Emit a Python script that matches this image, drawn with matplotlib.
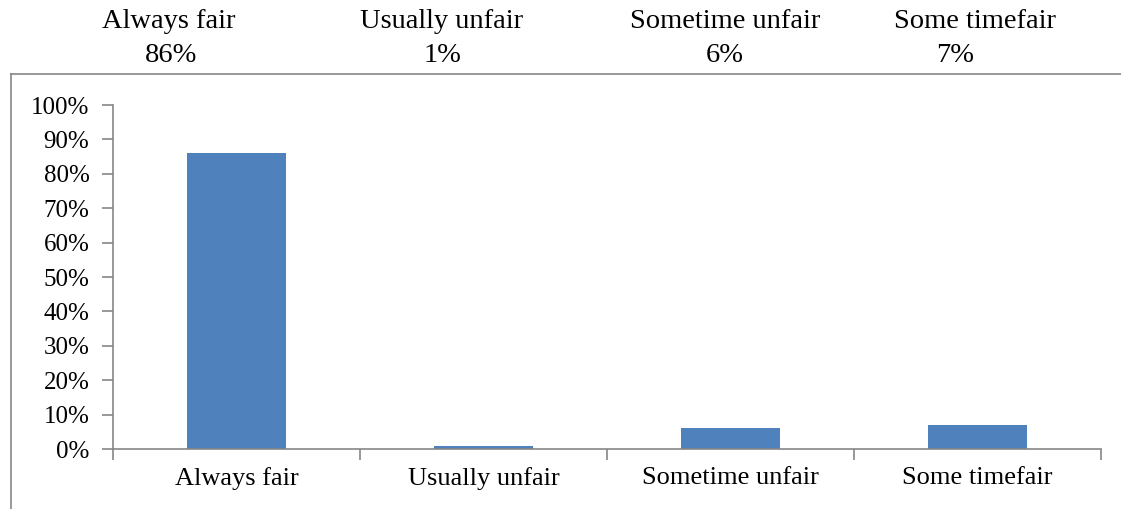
import numpy as np
import matplotlib.pyplot as plt
from matplotlib.lines import Line2D
from matplotlib.ticker import PercentFormatter

categories = ['Always fair', 'Usually unfair', 'Sometime unfair', 'Some timefair']
values = [86, 1, 6, 7]
pct_labels = ['86%', '1%', '6%', '7%']

plt.rcParams['font.family'] = ['Liberation Serif', 'DejaVu Serif']
edge = '#868686'

fig = plt.figure(figsize=(11.21, 5.09), dpi=100)
ax = fig.add_axes([113/1121, 1 - 449/509, (1101 - 113)/1121, (449 - 105)/509])

x = np.arange(len(categories))
ax.bar(x, values, width=0.4, color='#4F81BD')
ax.set_xlim(-0.5, len(categories) - 0.5)
ax.set_ylim(0, 100)
ax.set_yticks(np.arange(0, 101, 10))
ax.yaxis.set_major_formatter(PercentFormatter(decimals=0))

ax.set_xticks(np.arange(-0.5, len(categories), 1))
ax.set_xticklabels([])
ax.set_xticks(x, minor=True)
ax.set_xticklabels(categories, minor=True)
ax.tick_params(axis='x', which='minor', length=0, pad=13, labelsize=19)
ax.tick_params(axis='x', which='major', length=8, color=edge, width=1.2)
ax.tick_params(axis='y', length=8, color=edge, width=1.2, pad=9, labelsize=18)

for s in ['top', 'right']:
    ax.spines[s].set_visible(False)
for s in ['left', 'bottom']:
    ax.spines[s].set_color(edge)
    ax.spines[s].set_linewidth(1.2)

# outer frame (left and top edges)
fig.add_artist(Line2D([11/1121, 11/1121], [0, 1 - 74/509], color=edge, lw=1.2))
fig.add_artist(Line2D([11/1121, 1], [1 - 74/509, 1 - 74/509], color=edge, lw=1.2))

# table of names and percentages above the frame
name_x = [169, 442, 725, 975]
pct_x = [171, 442, 725, 955]
for i in range(len(categories)):
    fig.text(name_x[i]/1121, 1 - 21/509, categories[i], ha='center', va='center', fontsize=20.5)
    fig.text(pct_x[i]/1121, 1 - 55/509, pct_labels[i], ha='center', va='center', fontsize=20.5)

fig.savefig('out.png', dpi=100)
